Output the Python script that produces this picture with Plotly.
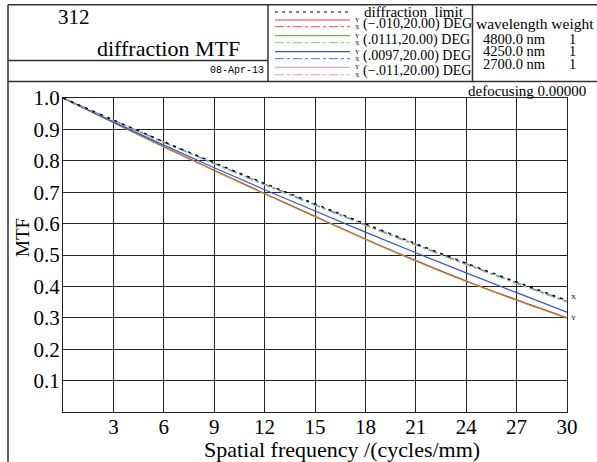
import plotly.graph_objects as go

# ---------------- data ----------------
freq = [0, 3, 6, 9, 12, 15, 18, 21, 24, 27, 30]
diffraction_limit = [1.0, 0.930, 0.861, 0.794, 0.728, 0.663, 0.599, 0.536, 0.474, 0.414, 0.355]

red_x   = [1.0, 0.929, 0.859, 0.791, 0.724, 0.659, 0.595, 0.532, 0.470, 0.410, 0.351]
red_y   = [1.0, 0.922, 0.845, 0.770, 0.696, 0.623, 0.551, 0.482, 0.417, 0.357, 0.300]
green_x = [1.0, 0.928, 0.858, 0.790, 0.723, 0.658, 0.594, 0.531, 0.469, 0.409, 0.350]
green_y = [1.0, 0.921, 0.843, 0.768, 0.694, 0.621, 0.549, 0.480, 0.415, 0.355, 0.298]
blue_x  = [1.0, 0.929, 0.860, 0.792, 0.726, 0.661, 0.597, 0.534, 0.472, 0.412, 0.353]
blue_y  = [1.0, 0.924, 0.850, 0.778, 0.708, 0.640, 0.573, 0.507, 0.443, 0.380, 0.318]
pink_x  = [1.0, 0.929, 0.859, 0.791, 0.724, 0.659, 0.595, 0.532, 0.470, 0.410, 0.351]
pink_y  = [1.0, 0.922, 0.845, 0.770, 0.696, 0.623, 0.551, 0.482, 0.417, 0.357, 0.300]

x_ticks = [3, 6, 9, 12, 15, 18, 21, 24, 27, 30]
y_ticks = [0.1, 0.2, 0.3, 0.4, 0.5, 0.6, 0.7, 0.8, 0.9, 1.0]

field_labels = ["(\u2212.010,20.00) DEG", "(.0111,20.00) DEG", "(.0097,20.00) DEG", "(\u2212.011,20.00) DEG"]
wavelengths = ["4800.0 nm", "4250.0 nm", "2700.0 nm"]
weights = ["1", "1", "1"]

RED, GREEN, BLUE, PINK = "#ee3b3b", "#5cbf3a", "#3355cc", "#f6a0a0"
RED_L, GREEN_L, BLUE_L, PINK_L = "#f07070", "#9ad67e", "#6f8fe0", "#f6b0b0"

# ---------------- layout geometry (pixels) ----------------
W, H = 597, 462
L, R, T, B = 63, 567, 98, 412

def px(X):
    return (X - L) / (R - L)

def py(Y):
    return (B - Y) / (B - T)

SERIF = "Liberation Serif"
MONO = "Liberation Mono"

fig = go.Figure()

def add(y, color, dash, width=1.2, opacity=1.0):
    fig.add_trace(go.Scatter(x=freq, y=y, mode="lines", opacity=opacity,
                             line=dict(color=color, dash=dash, width=width, shape="spline"),
                             showlegend=False, hoverinfo="skip"))

add(pink_y, PINK, "solid")
add(red_y, RED, "solid")
add(green_y, GREEN, "solid", opacity=0.6)
add(blue_y, BLUE, "solid")
add(pink_x, PINK_L, "dashdot")
add(red_x, RED_L, "dashdot")
add(green_x, GREEN_L, "dashdot")
add(blue_x, BLUE_L, "dashdot")
add(diffraction_limit, "black", "3px,5px", width=1.4)

shapes = []
FR = dict(color="#333333", width=1.5)

def seg(x0, y0, x1, y1, line):
    shapes.append(dict(type="line", xref="paper", yref="paper",
                       x0=px(x0), y0=py(y0), x1=px(x1), y1=py(y1), line=line, layer="above"))

# frame
seg(8, 4.7, 597, 4.7, FR)
seg(8, 4.7, 8, 462, FR)
seg(8, 81.5, 597, 81.5, FR)
seg(268, 4.7, 268, 81.5, FR)
seg(472.5, 4.7, 472.5, 81.5, FR)
seg(8, 60.5, 268, 60.5, FR)

# legend samples
seg(275, 12, 350, 12, dict(color="black", width=1.2, dash="3px,4px"))
rows = [(20, 26.7, RED, RED_L), (35.7, 42.7, GREEN, GREEN_L),
        (51.7, 58.7, BLUE, BLUE_L), (67.3, 74.7, PINK, PINK_L)]
for ys, yd, c, cl in rows:
    seg(275, ys, 350, ys, dict(color=c, width=1.2))
    seg(275, yd, 350, yd, dict(color=cl, width=1.2, dash="dashdot"))

ann = []

def text(X, Y, s, size, family=SERIF, xanchor="left", yanchor="middle", angle=0):
    ann.append(dict(x=px(X), y=py(Y), xref="paper", yref="paper", text=s,
                    showarrow=False, xanchor=xanchor, yanchor=yanchor, textangle=angle,
                    borderpad=0,
                    font=dict(family=family, size=size, color="black")))

text(74, 17, "312", 21, xanchor="center")
text(168, 48, "diffraction MTF", 22, xanchor="center")
text(265, 71, "08-Apr-13", 10, family=MONO, xanchor="right")

text(363, 11.5, "diffraction&nbsp;&nbsp;limit", 15)
for (ys, yd, c, cl), lab in zip(rows, field_labels):
    text(357, ys, "Y", 6, xanchor="center")
    text(357, yd, "X", 6, xanchor="center")
    text(362, (ys + yd) / 2 + 0.5, lab, 14)

text(535, 23.5, "wavelength weight", 15.5, xanchor="center")
for i, (wl, wt) in enumerate(zip(wavelengths, weights)):
    yy = 39 + i * 12.5
    text(482, yy, wl, 14.5)
    text(572, yy, wt, 14.5, xanchor="center")

text(587, 91.5, "defocusing 0.00000", 15, xanchor="right")

text(570, 297, "X", 7)
text(570, 318, "Y", 7)

text(22, 238, "MTF", 19, xanchor="center", angle=-90)
text(342, 449, "Spatial frequency /(cycles/mm)", 22, xanchor="center")

fig.update_layout(
    width=W, height=H,
    margin=dict(l=L, r=W - R, t=T, b=H - B, pad=0),
    paper_bgcolor="white", plot_bgcolor="white",
    shapes=shapes, annotations=ann, showlegend=False,
    xaxis=dict(range=[0, 30], tickvals=x_ticks, ticktext=[str(v) for v in x_ticks],
               showgrid=True, gridcolor="#222222", gridwidth=1,
               showline=True, linecolor="#222222", linewidth=1.2, mirror=True,
               zeroline=False, ticks="", ticklen=0, ticklabelstandoff=-4,
               tickfont=dict(family=SERIF, size=21, color="black")),
    yaxis=dict(range=[0, 1.0], tickvals=y_ticks, ticktext=["%.1f" % v for v in y_ticks],
               showgrid=True, gridcolor="#222222", gridwidth=1,
               showline=True, linecolor="#222222", linewidth=1.2, mirror=True,
               zeroline=False, ticks="", ticklen=0, ticklabelstandoff=-2,
               tickfont=dict(family=SERIF, size=21, color="black")),
)

fig.write_html("out.html", config={"displayModeBar": False},
               post_script="document.body.style.margin='0';document.body.style.overflow='hidden';")
